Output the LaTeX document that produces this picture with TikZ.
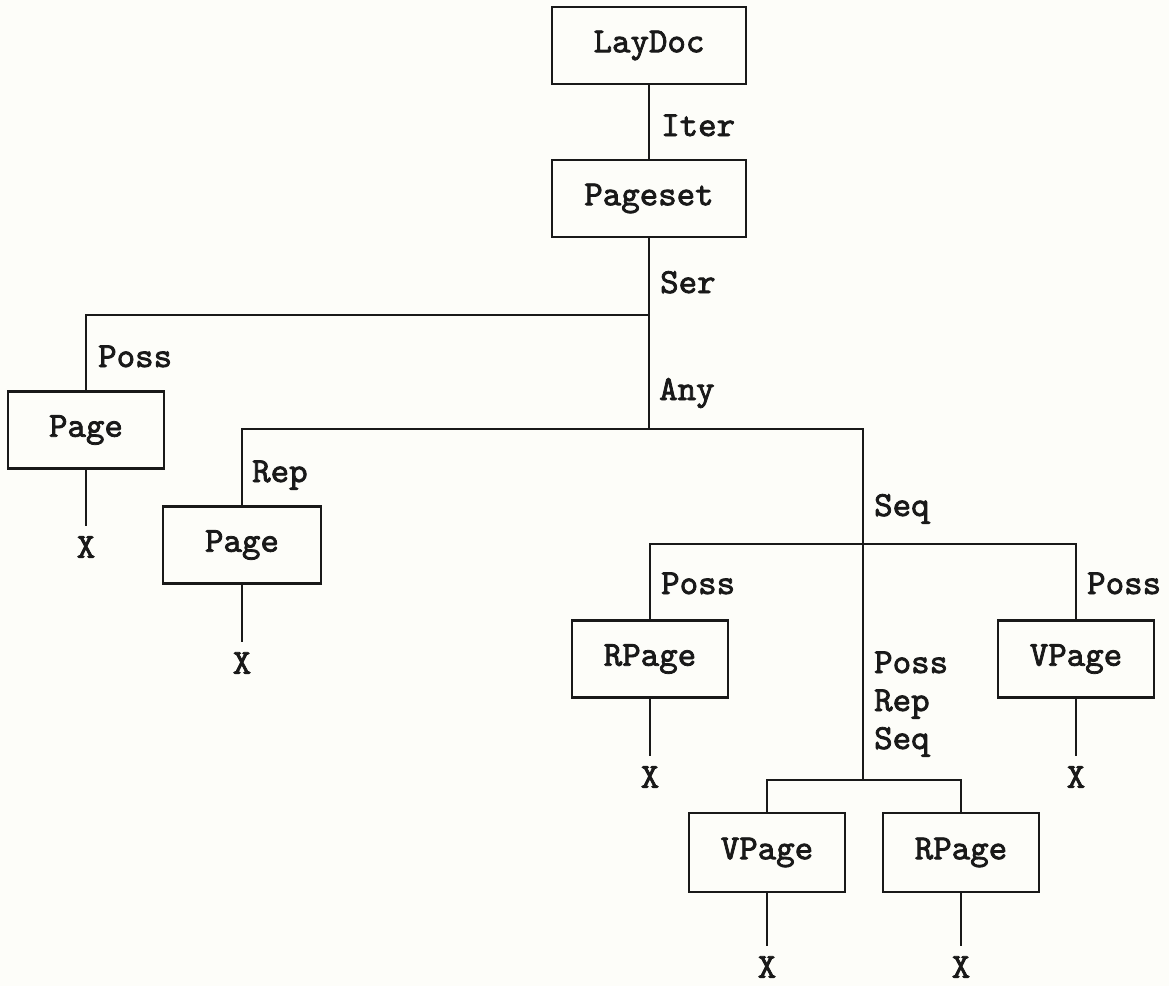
\documentclass[tikz,border=0pt]{standalone}
\usepackage{fontspec}
\newfontfamily\tw[FakeBold=2.2]{lmmono10-regular.otf}
\definecolor{paper}{RGB}{253,253,249}
\definecolor{ink}{RGB}{25,25,25}
\begin{document}
\begin{tikzpicture}[x=0.5pt,y=-0.5pt, line width=1.2pt, draw=ink,
  every node/.style={font=\tw\fontsize{17.6}{21}\selectfont, text=ink},
  box/.style={draw=ink, rectangle, inner sep=0pt, minimum width=78pt, minimum height=38.5pt},
  wbox/.style={box, minimum width=97pt},
  lbl/.style={anchor=base west, inner sep=0pt},
  leaf/.style={inner sep=0pt, outer sep=5pt}]
\useasboundingbox (0,0) rectangle (1169,986);
\fill[paper] (0,0) rectangle (1169,986);
% boxes
\node[wbox] (laydoc) at (649,45.5) {LayDoc};
\node[wbox] (pageset) at (649,198.5) {Pageset};
\node[box] (page1) at (86,430) {Page};
\node[box, minimum width=79pt] (page2) at (242,545) {Page};
\node[box] (rpage1) at (650,659) {RPage};
\node[box] (vpage1) at (1076,659) {VPage};
\node[box, minimum height=39.5pt] (vpage2) at (767,852.5) {VPage};
\node[box, minimum height=39.5pt] (rpage2) at (961,852.5) {RPage};
% junctions
\coordinate (serJ) at (649,315);
\coordinate (anyJ) at (649,429);
\coordinate (seqJ) at (863,544);
\coordinate (subJ) at (863,780);
% connectors
\draw (laydoc) -- (pageset);
\draw (pageset.south) -- (anyJ);
\draw (serJ) -| (page1.north);
\draw (anyJ) -| (page2.north);
\draw (anyJ) -| (subJ);
\draw (seqJ) -| (rpage1.north);
\draw (seqJ) -| (vpage1.north);
\draw (subJ) -| (vpage2.north);
\draw (subJ) -| (rpage2.north);
% leaves
\node[leaf] (x1) at (86,547) {X};
\node[leaf] (x2) at (242,663) {X};
\node[leaf] (x3) at (650,777) {X};
\node[leaf] (x4) at (1076,777) {X};
\node[leaf] (x5) at (767,967) {X};
\node[leaf] (x6) at (961,967) {X};
\draw (page1) -- (x1);
\draw (page2) -- (x2);
\draw (rpage1) -- (x3);
\draw (vpage1) -- (x4);
\draw (vpage2) -- (x5);
\draw (rpage2) -- (x6);
% labels
\node[lbl] (lIter) at (660,136) {Iter};
\node[lbl] (lSer) at (659,293) {Ser};
\node[lbl] (lPossA) at (97,367) {Poss};
\node[lbl] (lAny) at (658,400) {Any};
\node[lbl] (lRepA) at (251,482) {Rep};
\node[lbl] (lSeqA) at (873,516) {Seq};
\node[lbl] (lPossB) at (660,594) {Poss};
\node[lbl] (lPossC) at (1086,594) {Poss};
\node[lbl] (lPossD) at (873,673) {Poss};
\node[lbl] (lRepB) at (873,711) {Rep};
\node[lbl] (lSeqB) at (873,749) {Seq};
\end{tikzpicture}
\end{document}
